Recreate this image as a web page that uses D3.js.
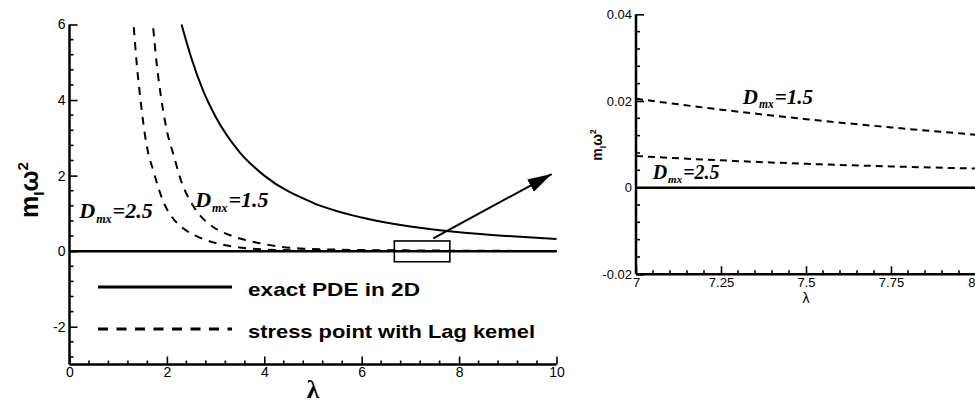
<!DOCTYPE html>
<html>
<head>
<meta charset="utf-8">
<script src="https://cdn.jsdelivr.net/npm/d3@7"></script>
<style>
  body { margin: 0; background: #fff; }
  text { fill: #000; }
</style>
</head>
<body>
<script>

// exact PDE in 2D
var lamExact = [2.3, 2.5, 2.75, 3, 3.5, 4, 5, 6, 7, 8, 9, 10];
var mExact = [6.0, 5.12, 4.23, 3.56, 2.61, 2.0, 1.28, 0.89, 0.65, 0.5, 0.4, 0.32];

// stress point with Lag kernel, Dmx = 2.5
var lam25 = [1.32, 1.38, 1.46, 1.55, 1.62, 1.72, 1.82, 1.93, 2.1, 2.34, 2.64, 2.99, 3.43, 3.91, 4.5, 5, 6, 7, 7.25, 7.5, 7.75, 8, 9, 10];
var m25 = [5.93, 4.97, 3.99, 3.07, 2.58, 2.14, 1.7, 1.3, 0.91, 0.6, 0.38, 0.22, 0.11, 0.05, 0.025, 0.017, 0.011, 0.0073, 0.0063, 0.0055, 0.0049, 0.0044, 0.003, 0.002];

// stress point with Lag kernel, Dmx = 1.5
var lam15 = [1.72, 1.79, 1.89, 2.02, 2.13, 2.3, 2.47, 2.68, 2.95, 3.3, 3.64, 4.12, 4.73, 5.49, 6, 7, 7.25, 7.5, 7.75, 8, 9, 10];
var m15 = [5.9, 4.97, 3.99, 3.07, 2.58, 1.83, 1.35, 0.95, 0.64, 0.42, 0.29, 0.16, 0.07, 0.04, 0.03, 0.0205, 0.018, 0.0158, 0.0139, 0.0122, 0.008, 0.005];

var xTicksL = [0, 2, 4, 6, 8, 10];
var yTicksL = [-2, 0, 2, 4, 6];
var xTicksR = [7, 7.25, 7.5, 7.75, 8];
var yTicksR = [-0.02, 0, 0.02, 0.04];

var legendLabels = ["exact PDE in 2D", "stress point with Lag kemel"];

var svg = d3.select("body").append("svg")
	.attr("width", 975)
	.attr("height", 403)

var xL = d3.scaleLinear().domain([0, 10]).range([69.5, 556.5]);
var yL = d3.scaleLinear().domain([-3, 6]).range([364.5, 24.5]);
var xR = d3.scaleLinear().domain([7, 8]).range([636, 976]);
var yR = d3.scaleLinear().domain([-0.02, 0.04]).range([274.3, 14.3]);

function zip(a, b) { return a.map(function(d, i) { return [d, b[i]] }) }
function fmt(d) { return String(+d.toFixed(3)) }   // plain hyphen for negatives

function drawAxes(g, x, y, xt, yt, xMinor, yMinor, fs) {
	var ax = d3.axisBottom(x).tickValues(xt).tickSize(-8).tickPadding(3).tickFormat(fmt);
	var ay = d3.axisLeft(y).tickValues(yt).tickSize(-8).tickPadding(4).tickFormat(fmt);
	var gx = g.append("g").attr("transform", "translate(0," + y.range()[0] + ")").call(ax);
	var gy = g.append("g").attr("transform", "translate(" + x.range()[0] + ",0)").call(ay);

	gx.selectAll(".tick").data(xMinor, function(d) { return d }).enter()
		.append("line").attr("class", "minor")
		.attr("x1", function(d) { return x(d) }).attr("x2", function(d) { return x(d) })
		.attr("y1", 0).attr("y2", -4);
	gy.selectAll(".tick").data(yMinor, function(d) { return d }).enter()
		.append("line").attr("class", "minor")
		.attr("y1", function(d) { return y(d) }).attr("y2", function(d) { return y(d) })
		.attr("x1", 0).attr("x2", 4);

	[gx, gy].forEach(function(a) {
		a.selectAll(".domain").remove();
		a.selectAll("line").attr("stroke", "#000").attr("stroke-width", 1.6);
		a.selectAll("text").attr("font-family", "Liberation Sans, Arial, sans-serif").attr("font-size", fs).attr("fill", "#000");
	});
	// axis lines
	g.append("line").attr("x1", x.range()[0]).attr("x2", x.range()[1])
		.attr("y1", y.range()[0]).attr("y2", y.range()[0])
		.attr("stroke", "#000").attr("stroke-width", 2.5);
	g.append("line").attr("x1", x.range()[0]).attr("x2", x.range()[0])
		.attr("y1", y.range()[0]).attr("y2", y.range()[1])
		.attr("stroke", "#000").attr("stroke-width", 2.5);
	return gx;
}

function dLabel(g, px, py, val, size) {
	var t = g.append("text").attr("x", px).attr("y", py)
		.attr("font-family", "Liberation Serif, Times New Roman, serif")
		.attr("font-style", "italic").attr("font-weight", "bold")
		.attr("font-size", size);
	t.append("tspan").text("D");
	t.append("tspan").attr("dy", size * 0.22).attr("dx", 1).attr("font-size", size * 0.55).text("mx");
	t.append("tspan").attr("dy", -size * 0.22).attr("dx", 1).text("=" + val);
}

function yTitle(g, px, py, size) {
	var t = g.append("text").attr("transform", "translate(" + px + "," + py + ") rotate(-90)")
		.attr("text-anchor", "middle")
		.attr("font-family", "Liberation Sans, Arial, sans-serif")
		.attr("font-weight", "bold").attr("font-size", size);
	t.append("tspan").text("m");
	t.append("tspan").attr("dy", size * 0.25).attr("font-size", size * 0.6).text("I");
	t.append("tspan").attr("dy", -size * 0.25).text("ω");
	t.append("tspan").attr("dy", -size * 0.4).attr("font-size", size * 0.6).text("2");
}

var xMinorL = d3.range(0, 26).map(function(i) { return +(i * 0.4).toFixed(2) }).filter(function(d) { return xTicksL.indexOf(d) < 0 });
var yMinorL = d3.range(-7, 16).map(function(i) { return +(i * 0.4).toFixed(2) }).filter(function(d) { return yTicksL.indexOf(d) < 0 });
var xMinorR = d3.range(0, 21).map(function(i) { return +(7 + i * 0.05).toFixed(2) }).filter(function(d) { return xTicksR.indexOf(d) < 0 });
var yMinorR = d3.range(-5, 11).map(function(i) { return +(i * 0.004).toFixed(3) }).filter(function(d) { return yTicksR.indexOf(d) < 0 });

// ---- left panel
var gL = svg.append("g");
drawAxes(gL, xL, yL, xTicksL, yTicksL, xMinorL, yMinorL, 14);

var lineL = d3.line().x(function(d) { return xL(d[0]) }).y(function(d) { return yL(d[1]) }).curve(d3.curveMonotoneX);

gL.append("line").attr("x1", xL(0)).attr("x2", xL(10)).attr("y1", yL(0)).attr("y2", yL(0))
	.attr("stroke", "#000").attr("stroke-width", 2.5);

gL.append("path").datum(zip(lamExact, mExact)).attr("d", lineL)
	.attr("fill", "none").attr("stroke", "#000").attr("stroke-width", 2);
[zip(lam25, m25), zip(lam15, m15)].forEach(function(s) {
	gL.append("path").datum(s).attr("d", lineL)
		.attr("fill", "none").attr("stroke", "#000").attr("stroke-width", 2)
		.attr("stroke-dasharray", "8,7");
})

dLabel(gL, xL(0.2), yL(0.87), "2.5", 22);
dLabel(gL, xL(2.58), yL(1.17), "1.5", 22);

// zoom box + arrow
gL.append("rect").attr("x", xL(6.67)).attr("y", yL(0.27))
	.attr("width", xL(7.81) - xL(6.67)).attr("height", yL(-0.28) - yL(0.27))
	.attr("fill", "none").attr("stroke", "#000").attr("stroke-width", 1.6);

svg.append("defs").append("marker").attr("id", "head")
	.attr("markerUnits", "userSpaceOnUse").attr("markerWidth", 26).attr("markerHeight", 16)
	.attr("refX", 24).attr("refY", 7).attr("orient", "auto")
	.append("path").attr("d", "M0,0 L24,7 L0,14 Z").attr("fill", "#000");
gL.append("line").attr("x1", xL(7.47)).attr("y1", yL(0.34)).attr("x2", xL(9.9)).attr("y2", yL(2.04))
	.attr("stroke", "#000").attr("stroke-width", 2).attr("marker-end", "url(#head)");

// legend
var leg = gL.selectAll(".leg").data(legendLabels).enter().append("g").attr("class", "leg")
	.attr("transform", function(d, i) { return "translate(98," + (287 + i * 42) + ")" });
leg.append("line").attr("x1", 0).attr("x2", 134).attr("y1", 0).attr("y2", 0)
	.attr("stroke", "#000").attr("stroke-width", 3)
	.attr("stroke-dasharray", function(d, i) { return i ? "10,8.5" : null });
leg.append("text").attr("x", 150).attr("y", 9).text(function(d) { return d })
	.attr("font-family", "Liberation Sans, Arial, sans-serif").attr("font-weight", "bold").attr("font-size", 19)
	.attr("textLength", function(d, i) { return i ? 287 : 172 }).attr("lengthAdjust", "spacingAndGlyphs");

yTitle(gL, 38, 190, 25);
gL.append("text").attr("x", xL(5)).attr("y", 398).attr("text-anchor", "middle")
	.attr("font-family", "Liberation Serif, serif").attr("font-weight", "bold").attr("font-size", 25).text("λ");

// ---- right panel (zoom on 7..8)
var gR = svg.append("g");
var gxR = drawAxes(gR, xR, yR, xTicksR, yTicksR, xMinorR, yMinorR, 13);
// last label sits on the picture edge
gxR.selectAll(".tick text").filter(function(d) { return d === 8 }).attr("text-anchor", "end").attr("dx", -1);

var lineR = d3.line().x(function(d) { return xR(d[0]) }).y(function(d) { return yR(d[1]) }).curve(d3.curveMonotoneX);
gR.append("line").attr("x1", xR(7)).attr("x2", xR(8)).attr("y1", yR(0)).attr("y2", yR(0))
	.attr("stroke", "#000").attr("stroke-width", 2.5);
[zip(lam25, m25), zip(lam15, m15)].forEach(function(s) {
	gR.append("path").datum(s.filter(function(d) { return d[0] >= 7 && d[0] <= 8 })).attr("d", lineR)
		.attr("fill", "none").attr("stroke", "#000").attr("stroke-width", 2)
		.attr("stroke-dasharray", "7,5");
})
dLabel(gR, xR(7.314), yR(0.0194), "1.5", 21);
dLabel(gR, xR(7.049), yR(0.0021), "2.5", 20);

yTitle(gR, 602, 145, 14);
gR.append("text").attr("x", xR(7.5)).attr("y", 303).attr("text-anchor", "middle")
	.attr("font-family", "Liberation Sans, Arial, sans-serif").attr("font-size", 14).text("λ");

</script>
</body>
</html>
